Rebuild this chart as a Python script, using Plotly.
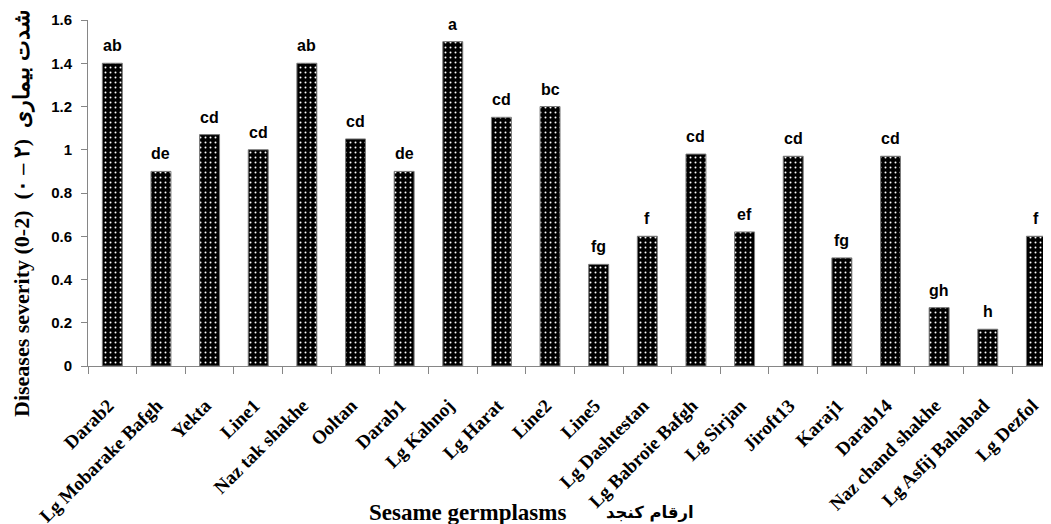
import plotly.graph_objects as go

categories = ["Darab2", "Lg Mobarake Bafgh", "Yekta", "Line1", "Naz tak shakhe", "Ooltan",
              "Darab1", "Lg Kahnoj", "Lg Harat", "Line2", "Line5", "Lg Dashtestan",
              "Lg Babroie Bafgh", "Lg Sirjan", "Jiroft13", "Karaj1", "Darab14",
              "Naz chand shakhe", "Lg Asfij Bahabad", "Lg Dezfol"]
severity = [1.40, 0.90, 1.07, 1.00, 1.40, 1.05, 0.90, 1.50, 1.15, 1.20,
            0.47, 0.60, 0.98, 0.62, 0.97, 0.50, 0.97, 0.27, 0.17, 0.60]
letters = ["ab", "de", "cd", "cd", "ab", "cd", "de", "a", "cd", "bc",
           "fg", "f", "cd", "ef", "cd", "fg", "cd", "gh", "h", "f"]
y_ticks = [0, 0.2, 0.4, 0.6, 0.8, 1, 1.2, 1.4, 1.6]
y_tick_labels = ["0", "0.2", "0.4", "0.6", "0.8", "1", "1.2", "1.4", "1.6"]
x_title_en = "Sesame germplasms"
x_title_fa = "ارقام کنجد"
y_title = "Diseases severity (0-2)  (۰ – ۲)  شدت بیماری"

fig = go.Figure()
fig.add_trace(go.Bar(
    x=categories, y=severity, width=0.41,
    marker=dict(color="black",
                line=dict(color="#7a7a7a", width=1),
                pattern=dict(shape=".", fgcolor="white", bgcolor="black",
                             size=5, solidity=0.12, fillmode="replace")),
    showlegend=False,
))

for c, v, t in zip(categories, severity, letters):
    fig.add_annotation(x=c, y=v, text="<b>" + t + "</b>", showarrow=False,
                       yanchor="bottom", yshift=7,
                       font=dict(family="Liberation Sans, Arial", size=16, color="black"))

fig.add_annotation(xref="paper", yref="paper", x=0.3936, y=-0.422, xanchor="center", yanchor="middle",
                   text="<b>" + x_title_en + "</b>", showarrow=False,
                   font=dict(family="Liberation Serif, Times New Roman", size=23, color="black"))
fig.add_annotation(xref="paper", yref="paper", x=0.5836, y=-0.422, xanchor="center", yanchor="middle",
                   text="<b>" + x_title_fa + "</b>", showarrow=False,
                   font=dict(family="DejaVu Sans", size=16.5, color="black"))

fig.add_annotation(xref="paper", yref="paper", x=-0.0686, y=0.442, xanchor="center", yanchor="middle",
                   text="<b>" + y_title + "</b>", showarrow=False, textangle=-90,
                   font=dict(family="Liberation Serif, Times New Roman", size=22, color="black"))

# page body has an 8px margin; compensate so the plot area lands at x 88..1051, y 20..366
fig.update_layout(
    width=1043, height=516,
    margin=dict(l=80, r=0, t=12, b=158),
    plot_bgcolor="white", paper_bgcolor="white",
)
fig.update_xaxes(
    type="category", range=[-0.5, 19.3], automargin=False,
    tickvals=categories, ticktext=["<b>" + c + "</b>" for c in categories],
    tickangle=-45, tickson="boundaries",
    ticklabelstandoff=20, ticklabelshift=-4,
    ticks="outside", ticklen=7, tickcolor="#868686",
    showline=True, linecolor="#868686", linewidth=1,
    showgrid=False,
    tickfont=dict(family="Liberation Serif, Times New Roman", size=19, color="black"),
)
fig.update_yaxes(
    range=[0, 1.6], automargin=False,
    tickvals=y_ticks, ticktext=["<b>" + s + "</b>" for s in y_tick_labels],
    ticklabelstandoff=6,
    ticks="outside", ticklen=6, tickcolor="#868686",
    showline=True, linecolor="#868686", linewidth=1,
    showgrid=False, zeroline=False,
    tickfont=dict(family="Liberation Sans, Arial", size=15, color="black"),
)

fig.write_html("out.html")
